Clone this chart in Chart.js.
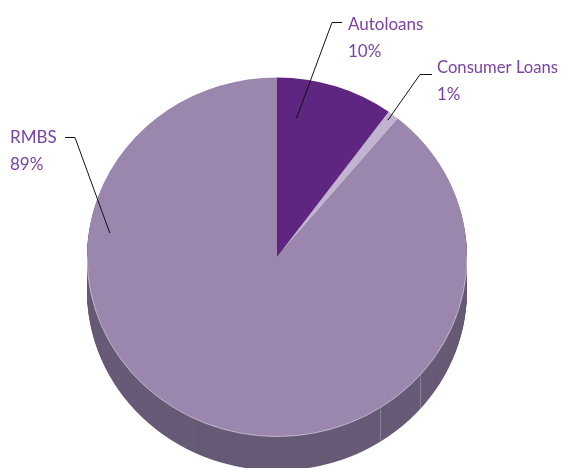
<!DOCTYPE html>
<html>
<head>
<meta charset="utf-8">
<script src="https://cdn.jsdelivr.net/npm/chart.js@4.4.1/dist/chart.umd.min.js"></script>
<style>
  html, body { margin:0; padding:0; background:#fff; }
  #wrap { width:562px; height:468px; position:relative; }
</style>
</head>
<body>
<div id="wrap"><canvas id="pie" width="562" height="468"></canvas></div>
<script>
// Data
const labels  = ['Autoloans', 'Consumer Loans', 'RMBS'];
const shares  = [10, 1, 89];
const pctText = ['10%', '1%', '89%'];
const colors  = ['#5e2681', '#c2b3d0', '#9b87ad'];

// Look of the fake 3D
const SQUASH = 0.945;       // vertical / horizontal radius
const DEPTH  = 34;          // side height in px
const SIDE   = '#675a76';
const TEXT   = '#7b42a3';
const FONT   = '17px Lato, "Open Sans", "DejaVu Sans", sans-serif';

// Label layout: where the leader starts inside the slice (fraction of the
// slice angle, fraction of the radius) and where the text sits
const callouts = [
  { f:0.21, rf:0.78, elbow:[332,22], tick:10,  text:[348,30] },
  { f:0.40, rf:0.96, elbow:[420,74], tick:12,  text:[437,73] },
  { f:0.746, rf:0.89, elbow:[75,137], tick:-10, text:[10,143] },
];

function ellY(cy, y){ return cy + (y - cy) * SQUASH; }

function squash(ctx, cx, cy, dy){
  ctx.translate(cx, cy + dy);
  ctx.scale(1, SQUASH);
  ctx.translate(-cx, -cy);
}

const pie3d = {
  id: 'pie3d',
  beforeDatasetsDraw(chart){
    const ctx = chart.ctx;
    const arcs = chart.getDatasetMeta(0).data;
    const { x:cx, y:cy } = arcs[0];
    // side wall
    for(let dy = DEPTH; dy >= 1; dy--){
      ctx.save();
      squash(ctx, cx, cy, dy);
      ctx.fillStyle = SIDE;
      arcs.forEach(a=>{
        ctx.beginPath();
        ctx.moveTo(a.x, a.y);
        ctx.arc(a.x, a.y, a.outerRadius, a.startAngle, a.endAngle);
        ctx.closePath();
        ctx.fill();
      });
      ctx.restore();
    }
    // faint seams on the wall
    const r = arcs[0].outerRadius;
    ctx.save();
    ctx.strokeStyle = 'rgba(255,255,255,0.22)';
    ctx.lineWidth = 1;
    [41, 57].forEach(deg=>{
      const t = deg * Math.PI / 180;
      const x = Math.round(cx + Math.cos(t) * r) + 0.5;
      const y = cy + Math.sin(t) * r * SQUASH;
      ctx.beginPath();
      ctx.moveTo(x, y);
      ctx.lineTo(x, y + DEPTH);
      ctx.stroke();
    });
    ctx.restore();
    // squash the top face
    ctx.save();
    squash(ctx, cx, cy, 0);
  },
  afterDatasetsDraw(chart){
    const ctx = chart.ctx;
    ctx.restore();
    const arcs = chart.getDatasetMeta(0).data;
    const { x:cx, y:cy, outerRadius:r } = arcs[0];
    // rim highlight
    ctx.save();
    ctx.strokeStyle = 'rgba(255,255,255,0.45)';
    ctx.lineWidth = 1;
    ctx.beginPath();
    ctx.ellipse(cx, cy, r, r * SQUASH, 0, 0, Math.PI);
    ctx.stroke();
    ctx.restore();
    // callouts
    ctx.save();
    arcs.forEach((a, i)=>{
      const c = callouts[i];
      const ang = a.startAngle + c.f * (a.endAngle - a.startAngle);
      const px = cx + Math.cos(ang) * r * c.rf;
      const py = ellY(cy, cy + Math.sin(ang) * r * c.rf);
      ctx.strokeStyle = '#111';
      ctx.lineWidth = 1;
      ctx.beginPath();
      ctx.moveTo(px, py);
      ctx.lineTo(c.elbow[0], c.elbow[1] + 0.5);
      ctx.lineTo(c.elbow[0] + c.tick, c.elbow[1] + 0.5);
      ctx.stroke();
      ctx.fillStyle = TEXT;
      ctx.font = FONT;
      ctx.textAlign = 'left';
      ctx.textBaseline = 'alphabetic';
      ctx.fillText(labels[i], c.text[0], c.text[1], 121);
      ctx.fillText(pctText[i], c.text[0], c.text[1] + 27);
    });
    ctx.restore();
  }
};

new Chart(document.getElementById('pie'), {
  type: 'pie',
  data: {
    labels,
    datasets: [{
      data: shares,
      backgroundColor: colors,
      borderWidth: 0
    }]
  },
  options: {
    responsive: false,
    animation: false,
    layout: { padding: { left:87, right:95, top:67, bottom:21 } },
    plugins: {
      legend: { display:false },
      tooltip: { enabled:false }
    }
  },
  plugins: [pie3d]
});
</script>
</body>
</html>
